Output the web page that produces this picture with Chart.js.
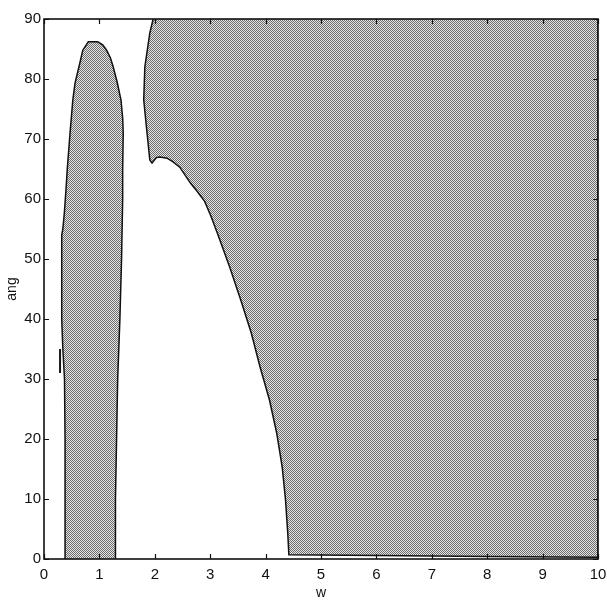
<!DOCTYPE html>
<html>
<head>
<meta charset="utf-8">
<script src="https://cdn.jsdelivr.net/npm/chart.js@4.4.1/dist/chart.umd.min.js"></script>
<style>
  html, body { margin: 0; padding: 0; background: #fff; }
  #wrap { width: 607px; height: 602px; position: relative; }
</style>
</head>
<body>
<div id="wrap"><canvas id="c" width="607" height="602"></canvas></div>
<script>
// ---- data ----
const xTickLabels = ['0','1','2','3','4','5','6','7','8','9','10'];
const yTickLabels = ['0','10','20','30','40','50','60','70','80','90'];

// left lobe boundary (w, ang)
const leftLobeW   = [0.38, 0.38, 0.37, 0.34, 0.32, 0.32, 0.32, 0.34, 0.37, 0.40, 0.42, 0.47, 0.52, 0.56, 0.63, 0.70, 0.80, 0.97, 1.06, 1.13, 1.20, 1.25, 1.32, 1.39, 1.42, 1.43, 1.42, 1.42, 1.40, 1.37, 1.33, 1.31, 1.29, 1.29];
const leftLobeAng = [0,    20,   30,   35,   40,   48,   54,   55,   58,   62,   65,   71,   76.5, 79.3, 82,   84.8, 86.2, 86.2, 85.7, 84.8, 83.5, 82,   79.5, 76.5, 73.5, 71,   65,   60,   50,   40,   30,   20,   10,   0];

// right region boundary (w, ang)
const rightRegionW   = [1.97, 1.91, 1.82, 1.80, 1.86, 1.91, 1.95, 2.03, 2.09, 2.22, 2.33, 2.45, 2.64, 2.77, 2.90, 3.01, 3.13, 3.35, 3.55, 3.74, 3.90, 4.07, 4.20, 4.30, 4.36, 4.40, 4.42, 6.0, 8.0, 10.0, 10.0];
const rightRegionAng = [90,   87.7, 82,   76.5, 71,   66.5, 66,   66.9, 67,   66.8, 66.2, 65.3, 62.7, 61.2, 59.6, 57.2, 54.3, 48.7, 43.2, 37.7, 32.0, 26.5, 21.0, 15.3, 9.8,  4.3,  0.7,  0.6, 0.4, 0.3,  90];

// small isolated mark
const markW   = [0.29, 0.29];
const markAng = [31, 35];

// ---- helpers ----
function pts(xs, ys) { return xs.map((x, i) => ({ x: x, y: ys[i] })); }

function makePattern() {
  const pc = document.createElement('canvas');
  pc.width = 2; pc.height = 2;
  const p = pc.getContext('2d');
  p.fillStyle = '#e6e6e6'; p.fillRect(0, 0, 2, 2);
  p.fillStyle = '#6c6c6c'; p.fillRect(0, 0, 1, 1); p.fillRect(1, 1, 1, 1);
  return document.getElementById('c').getContext('2d').createPattern(pc, 'repeat');
}
const pattern = makePattern();

const frameAndTicks = {
  id: 'frameAndTicks',
  afterDraw(chart) {
    const { ctx, chartArea: a, scales } = chart;
    ctx.save();
    ctx.strokeStyle = '#111';
    ctx.lineWidth = 1.2;
    const L = 5;
    ctx.beginPath();
    scales.x.ticks.forEach(t => {
      const px = Math.round(scales.x.getPixelForValue(t.value)) + 0.5;
      ctx.moveTo(px, a.bottom); ctx.lineTo(px, a.bottom - L);
      ctx.moveTo(px, a.top); ctx.lineTo(px, a.top + L);
    });
    scales.y.ticks.forEach(t => {
      const py = Math.round(scales.y.getPixelForValue(t.value)) + 0.5;
      ctx.moveTo(a.left, py); ctx.lineTo(a.left + L, py);
      ctx.moveTo(a.right, py); ctx.lineTo(a.right - L, py);
    });
    ctx.stroke();
    ctx.lineWidth = 1.6;
    ctx.strokeStyle = '#111';
    ctx.strokeRect(a.left, a.top, a.right - a.left, a.bottom - a.top);
    ctx.restore();
  }
};

const tickFont = { family: 'Liberation Sans, Arial, sans-serif', size: 15 };

new Chart(document.getElementById('c'), {
  type: 'scatter',
  data: {
    datasets: [
      {
        label: 'lobe',
        data: pts(leftLobeW, leftLobeAng),
        showLine: true,
        fill: 'shape',
        backgroundColor: pattern,
        borderColor: '#111',
        borderWidth: 1.5,
        pointRadius: 0,
        tension: 0
      },
      {
        label: 'region',
        data: pts(rightRegionW, rightRegionAng),
        showLine: true,
        fill: 'shape',
        backgroundColor: pattern,
        borderColor: '#111',
        borderWidth: 1.5,
        pointRadius: 0,
        tension: 0
      },
      {
        label: 'mark',
        data: pts(markW, markAng),
        showLine: true,
        fill: false,
        borderColor: '#111',
        borderWidth: 2,
        pointRadius: 0
      }
    ]
  },
  options: {
    responsive: false,
    animation: false,
    layout: { padding: { top: 19, right: 0, left: 4, bottom: 0 } },
    plugins: { legend: { display: false }, tooltip: { enabled: false } },
    scales: {
      x: {
        type: 'linear', min: 0, max: 10,
        grid: { display: false, drawTicks: false },
        border: { display: false },
        ticks: {
          stepSize: 1, padding: 7, color: '#111', font: tickFont,
          callback: (v, i) => xTickLabels[i]
        },
        title: { display: true, text: 'w', color: '#111', padding: { top: 0, bottom: 0 },
                 font: { family: 'Liberation Sans, Arial, sans-serif', size: 14 } },
        afterFit: s => { s.height = 43; s.paddingRight = 9; s.paddingLeft = 0; }
      },
      y: {
        type: 'linear', min: 0, max: 90,
        grid: { display: false, drawTicks: false },
        border: { display: false },
        ticks: {
          stepSize: 10, padding: 3, color: '#111', font: tickFont,
          callback: (v, i) => yTickLabels[i]
        },
        title: { display: true, text: 'ang', color: '#111', padding: { top: 0, bottom: 0 },
                 font: { family: 'Liberation Sans, Arial, sans-serif', size: 14 } },
        afterFit: s => { s.width = 40; }
      }
    }
  },
  plugins: [frameAndTicks]
});
</script>
</body>
</html>
